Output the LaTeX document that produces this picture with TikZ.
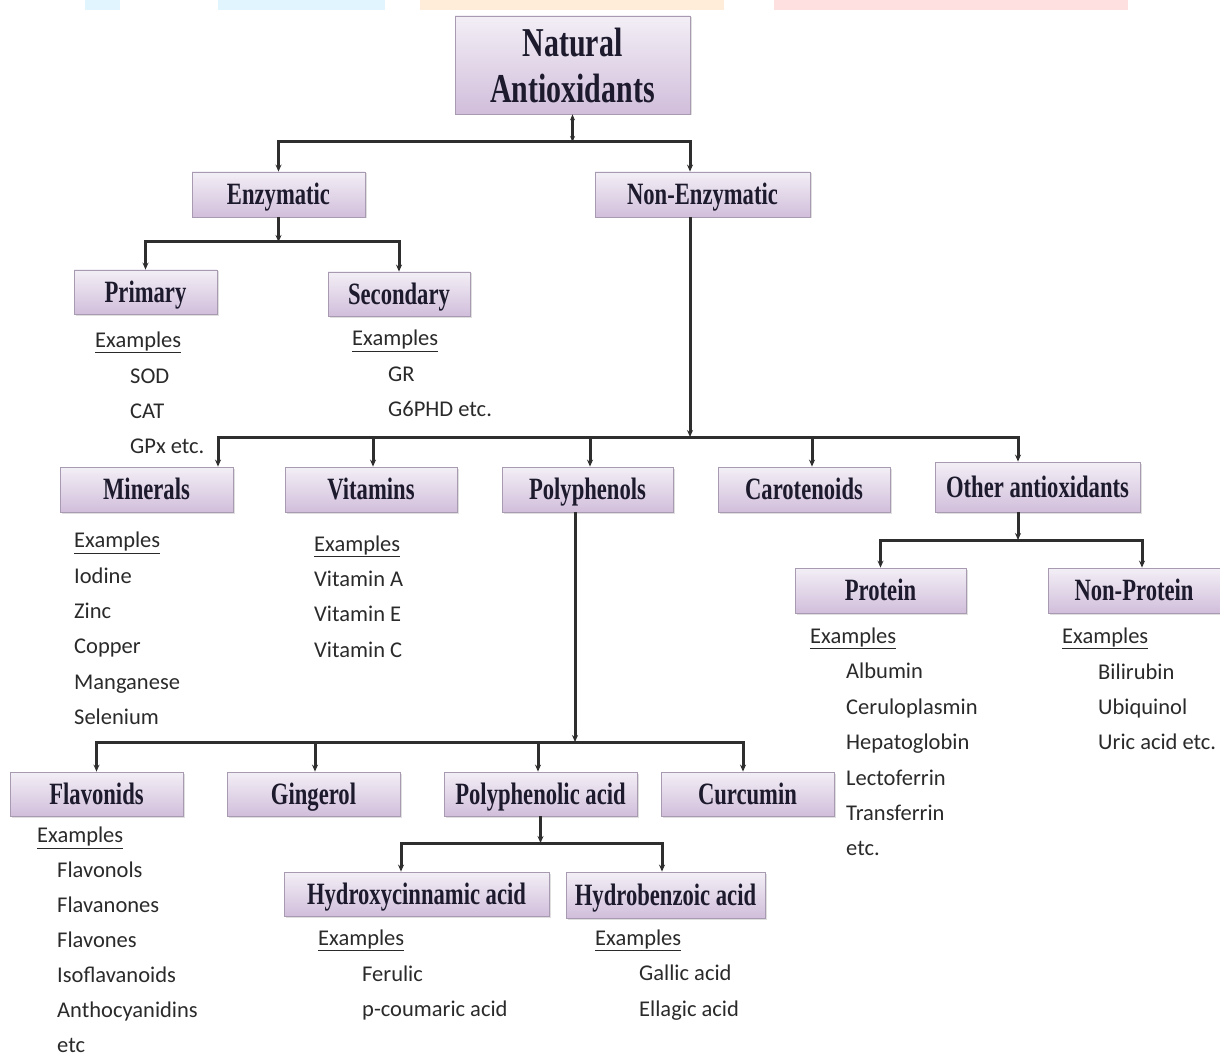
\documentclass[tikz,border=0pt]{standalone}
\usepackage{fontspec}
\usetikzlibrary{arrows.meta,shadows}
\newfontfamily\boxfont[FakeStretch=0.73]{Liberation Serif}
\newfontfamily\exfont{Carlito}

\definecolor{boxtop}{HTML}{F3EFF6}
\definecolor{boxbot}{HTML}{D1BEDB}
\definecolor{boxline}{HTML}{A89AB0}
\definecolor{labeltext}{HTML}{1C1A2C}
\definecolor{extext}{HTML}{2A2A2A}
\definecolor{linkgray}{HTML}{2E2E2E}

\tikzset{
  catbox/.style={draw=boxline, line width=0.8pt, top color=boxtop, bottom color=boxbot,
    minimum height=45, inner sep=0pt, text=labeltext, text height=20pt, text depth=0pt,
    font=\boxfont\bfseries\fontsize{31}{34}\selectfont,
    drop shadow={shadow xshift=1.5pt, shadow yshift=-1.5pt, opacity=0.25}},
  link/.style={draw=linkgray, line width=3pt, -{Stealth[length=7pt,width=6pt]}},
  exlist/.style={anchor=west, inner sep=0pt, align=left, text=extext,
    font=\exfont\fontsize{22.5}{35.4}\selectfont},
}

\begin{document}
\begin{tikzpicture}[x=1pt,y=-1pt]
    \useasboundingbox (0,0) rectangle (1220,1059);

    %faint strip at the top
    \fill[cyan!12] (85,0) rectangle (120,10);
    \fill[cyan!12] (218,0) rectangle (385,10);
    \fill[orange!15] (420,0) rectangle (724,10);
    \fill[red!12] (774,0) rectangle (1128,10);

    %boxes
    \node[catbox, minimum width=235, minimum height=98, align=center, text height={}, text depth={},
      font=\boxfont\bfseries\fontsize{41}{46}\selectfont] (nat) at (572.5,65) {Natural\\Antioxidants};
    \node[catbox, minimum width=173] (enz) at (278.5,194.5) {Enzymatic};
    \node[catbox, minimum width=215] (nonenz) at (702.5,194.5) {Non-Enzymatic};
    \node[catbox, minimum width=143, minimum height=44] (prim) at (145.5,292) {Primary};
    \node[catbox, minimum width=142, minimum height=44] (sec) at (399,294) {Secondary};
    \node[catbox, minimum width=173] (min) at (146.5,489.5) {Minerals};
    \node[catbox, minimum width=172] (vit) at (371,489.5) {Vitamins};
    \node[catbox, minimum width=171] (poly) at (587.5,489.5) {Polyphenols};
    \node[catbox, minimum width=172] (car) at (804,489.5) {Carotenoids};
    \node[catbox, minimum width=205, minimum height=50] (oth) at (1037.5,487) {Other antioxidants};
    \node[catbox, minimum width=171] (prot) at (880.5,590.5) {Protein};
    \node[catbox, minimum width=172] (nprot) at (1134,590.5) {Non-Protein};
    \node[catbox, minimum width=173, minimum height=44] (flav) at (96.5,794) {Flavonids};
    \node[catbox, minimum width=173, minimum height=44] (ging) at (313.5,794) {Gingerol};
    \node[catbox, minimum width=193, minimum height=44] (pacid) at (540.5,794) {Polyphenolic acid};
    \node[catbox, minimum width=173, minimum height=44] (curc) at (747.5,794) {Curcumin};
    \node[catbox, minimum width=265, minimum height=44] (hcin) at (416.5,894) {Hydroxycinnamic acid};
    \node[catbox, minimum width=199, minimum height=46] (hben) at (665.5,895) {Hydrobenzoic acid};

    %junctions
    \coordinate (natj) at (572.5,142);
    \coordinate (enzj) at (278.5,242);
    \coordinate (nonj) at (690,437);
    \coordinate (polj) at (575,742);
    \coordinate (othj) at (1018,540);
    \coordinate (pacj) at (540.5,843);

    %links
    \draw[link, {Stealth[length=6pt,width=5pt]}-{Stealth[length=6pt,width=5pt]}] (nat.south) -- (natj);
    \draw[link] (natj) -| (enz.north);
    \draw[link] (natj) -| ([xshift=-12.5]nonenz.north);

    \draw[link] (enz.south) -- (enzj);
    \draw[link] (enzj) -| (prim.north);
    \draw[link] (enzj) -| (sec.north);

    \draw[link] ([xshift=-12.5]nonenz.south) -- (nonj);
    \draw[link] (nonj) -| ([xshift=71.5]min.north);
    \draw[link] (nonj) -| ([xshift=2]vit.north);
    \draw[link] (nonj) -| ([xshift=2.5]poly.north);
    \draw[link] (nonj) -| ([xshift=8]car.north);
    \draw[link] (nonj) -| ([xshift=-19.5]oth.north);

    \draw[link] ([xshift=-19.5]oth.south) -- (othj);
    \draw[link] (othj) -| (prot.north);
    \draw[link] (othj) -| ([xshift=8]nprot.north);

    \draw[link] ([xshift=-12.5]poly.south) -- (polj);
    \draw[link] (polj) -| (flav.north);
    \draw[link] (polj) -| ([xshift=1.5]ging.north);
    \draw[link] (polj) -| ([xshift=-2.5]pacid.north);
    \draw[link] (polj) -| ([xshift=-4.5]curc.north);

    \draw[link] (pacid.south) -- (pacj);
    \draw[link] (pacj) -| ([xshift=-15.5]hcin.north);
    \draw[link] (pacj) -| ([xshift=-3.5]hben.north);

    %examples
    \node[exlist] (primex) at (95,393) {\underline{Examples}\\\hspace*{35pt}SOD\\\hspace*{35pt}CAT\\\hspace*{35pt}GPx etc.};
    \node[exlist] (secex) at (352,373.5) {\underline{Examples}\\\hspace*{36pt}GR\\\hspace*{36pt}G6PHD etc.};
    \node[exlist] (minex) at (74,628.5) {\underline{Examples}\\Iodine\\Zinc\\Copper\\Manganese\\Selenium};
    \node[exlist] (vitex) at (314,596.5) {\underline{Examples}\\Vitamin A\\Vitamin E\\Vitamin C};
    \node[exlist] (protex) at (810,742) {\underline{Examples}\\\hspace*{36pt}Albumin\\\hspace*{36pt}Ceruloplasmin\\\hspace*{36pt}Hepatoglobin\\\hspace*{36pt}Lectoferrin\\\hspace*{36pt}Transferrin\\\hspace*{36pt}etc.};
    \node[exlist] (nprotex) at (1062,689) {\underline{Examples}\\\hspace*{36pt}Bilirubin\\\hspace*{36pt}Ubiquinol\\\hspace*{36pt}Uric acid etc.};
    \node[exlist, font=\exfont\fontsize{22.5}{35}\selectfont] (flavex) at (37,940) {\underline{Examples}\\\hspace*{20pt}Flavonols\\\hspace*{20pt}Flavanones\\\hspace*{20pt}Flavones\\\hspace*{20pt}Isoflavanoids\\\hspace*{20pt}Anthocyanidins\\\hspace*{20pt}etc};
    \node[exlist] (hcinex) at (318,975) {\underline{Examples}\\\hspace*{44pt}Ferulic\\\hspace*{44pt}p-coumaric acid};
    \node[exlist] (hbenex) at (595,975) {\underline{Examples}\\\hspace*{44pt}Gallic acid\\\hspace*{44pt}Ellagic acid};

\end{tikzpicture}
\end{document}
